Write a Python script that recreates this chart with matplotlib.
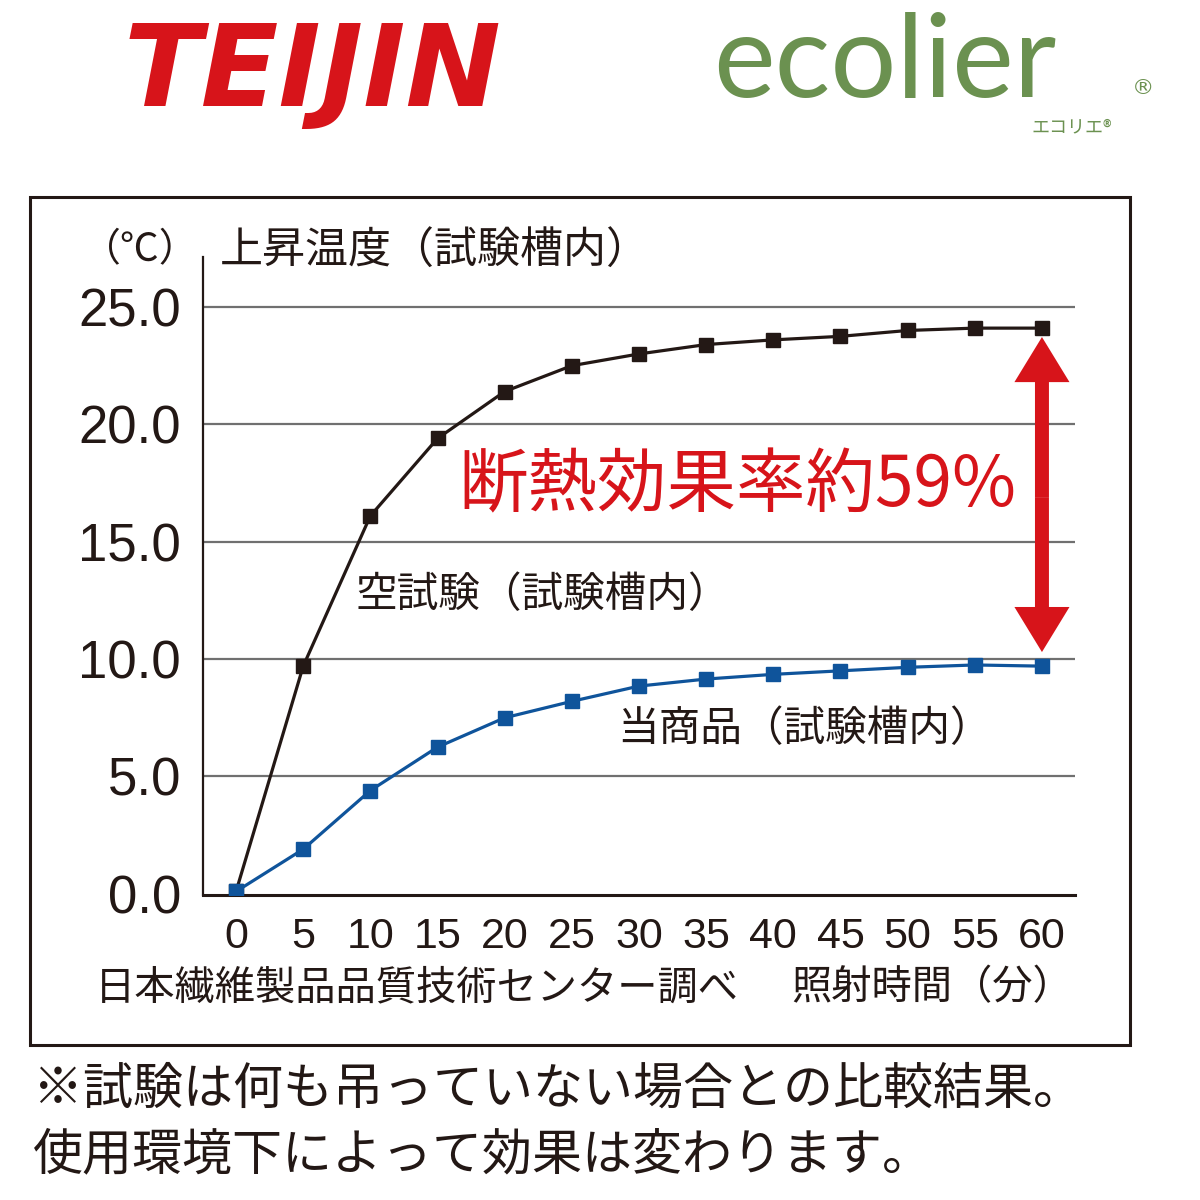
import matplotlib
matplotlib.use('Agg')
import matplotlib.pyplot as plt
import matplotlib.patches as patches
from matplotlib import font_manager as fm

# data
minutes = [0, 5, 10, 15, 20, 25, 30, 35, 40, 45, 50, 55, 60]
blank_test = [0.1, 9.7, 16.1, 19.4, 21.4, 22.5, 23.0, 23.4, 23.6, 23.75, 24.0, 24.1, 24.1]
product = [0.1, 1.9, 4.4, 6.25, 7.5, 8.2, 8.85, 9.15, 9.35, 9.5, 9.65, 9.75, 9.7]
yticks = [0, 5, 10, 15, 20, 25]
ytick_labels = ['0.0', '5.0', '10.0', '15.0', '20.0', '25.0']

JP = ['Noto Sans CJK JP', 'DejaVu Sans']
fams = {f.name for f in fm.fontManager.ttflist}
NUM = 'Liberation Sans Narrow' if 'Liberation Sans Narrow' in fams else 'Liberation Sans'

BLACK = '#231815'
BLUE = '#0f549b'
RED = '#d7141a'
GREEN = '#6b9150'
GRID = '#707070'

W = 1200.0
def px(x, y):
    return x / W, 1 - y / W

fig = plt.figure(figsize=(12, 12), dpi=100)
fig.patch.set_facecolor('white')

# logo
fig.text(*px(312, 106), 'TEIJIN', color=RED, fontsize=82, fontweight='bold',
         fontstyle='italic', family='DejaVu Sans', ha='center', va='baseline')
fig.text(*px(885, 97), 'ecolier', color=GREEN, fontsize=84, fontweight='normal',
         family='Lato', ha='center', va='baseline')
fig.text(*px(1143, 88), '®', color=GREEN, fontsize=16, family='DejaVu Sans',
         ha='center', va='center')
fig.text(*px(1072, 127), 'エコリエ®', color=GREEN, fontsize=13, family=JP,
         ha='center', va='center')

# frame
frame = patches.Rectangle(px(30, 1045), 1100 / W, 848 / W, transform=fig.transFigure,
                          fill=False, lw=2.2, ec=BLACK)
fig.add_artist(frame)

ax = fig.add_axes([203 / W, 1 - 895 / W, (1075 - 203) / W, (895 - 257) / W])
ax.set_xlim(-2.46, 62.46)
ax.set_ylim(-0.05, 27.13)

for y in yticks[1:]:
    ax.axhline(y, color=GRID, lw=1.6, zorder=1)

ax.plot(minutes, blank_test, color=BLACK, lw=2.3, marker='s', ms=10, zorder=3)
ax.plot(minutes, product, color=BLUE, lw=2.3, marker='s', ms=10, zorder=3)

for s in ['top', 'right']:
    ax.spines[s].set_visible(False)
ax.spines['left'].set_linewidth(1.6)
ax.spines['left'].set_color(BLACK)
ax.spines['bottom'].set_linewidth(2.2)
ax.spines['bottom'].set_color(BLACK)

ax.set_yticks(yticks)
ax.set_yticklabels(ytick_labels, fontsize=38, family=NUM, color=BLACK)
ax.set_xticks(minutes)
ax.set_xticklabels([str(m) for m in minutes], fontsize=31, family=NUM, color=BLACK)
ax.tick_params(axis='y', length=0, pad=16)
ax.tick_params(axis='x', length=0, pad=16)

# double arrow between the curves at 60 min
mid = (blank_test[-1] + product[-1]) / 2
for end in (23.72, 10.3):
    ax.arrow(60, mid, 0, end - mid, width=1.04, head_width=4.1, head_length=1.92,
             length_includes_head=True, fc=RED, ec='none', zorder=4)

ax.text(37.3, 17.33, '断熱効果率約59%', color=RED, fontsize=50, family=JP,
        ha='center', va='center')
ax.text(8.86, 12.73, '空試験（試験槽内）', color=BLACK, fontsize=30, family=JP,
        ha='left', va='center')
ax.text(28.4, 6.98, '当商品（試験槽内）', color=BLACK, fontsize=30, family=JP,
        ha='left', va='center')

# titles / labels
fig.text(*px(140, 250), '（℃）', fontsize=28, family=JP, color=BLACK, ha='center', va='center')
fig.text(*px(220, 252), '上昇温度（試験槽内）', fontsize=31, family=JP, color=BLACK,
         ha='left', va='center')
fig.text(*px(95, 988), '日本繊維製品品質技術センター調べ', fontsize=29, family=JP,
         color=BLACK, ha='left', va='center')
fig.text(*px(1073, 988), '照射時間（分）', fontsize=29, family=JP, color=BLACK,
         ha='right', va='center')

fig.text(*px(33, 1090), '※試験は何も吊っていない場合との比較結果。', fontsize=36,
         family=JP, color=BLACK, ha='left', va='center')
fig.text(*px(33, 1155), '使用環境下によって効果は変わります。', fontsize=36,
         family=JP, color=BLACK, ha='left', va='center')

fig.savefig('out.png', dpi=100)
